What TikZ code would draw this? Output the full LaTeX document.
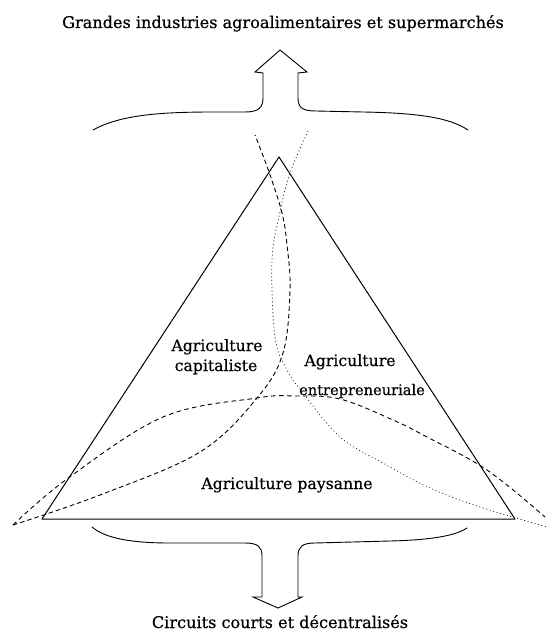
\documentclass[tikz,border=0pt]{standalone}
\usepackage{fontspec}
\setmainfont{DejaVu Serif}
\newfontfamily\lblfont{DejaVu Serif}[FakeBold=0.5]
\begin{document}
\begin{tikzpicture}[x=1pt,y=-1pt,
  edge/.style={line width=1pt, line join=round, line cap=round},
  brace/.style={line width=0.9pt, line join=miter, line cap=round},
  capcurve/.style={line width=0.9pt, dash pattern=on 4.5pt off 3pt},
  paycurve/.style={line width=0.9pt, dash pattern=on 4.5pt off 3.5pt},
  entcurve/.style={line width=0.8pt, dash pattern=on 0.6pt off 3pt, line cap=round, black!80},
  lbl/.style={font=\lblfont\fontsize{15.7}{18}\selectfont, inner sep=0pt, anchor=base},
  biglbl/.style={font=\lblfont\fontsize{16.1}{19}\selectfont, inner sep=0pt, anchor=base},
  smalllbl/.style={font=\lblfont\fontsize{14.6}{17}\selectfont, inner sep=0pt, anchor=base},
]
\useasboundingbox (0,0) rectangle (548,631);

% corners of the triangle
\coordinate (apex) at (279,157);
\coordinate (left) at (42,519);
\coordinate (right) at (515,519);
\draw[edge] (left) -- (apex) -- (right) -- cycle;

% peasant farming: dashed arc over the base
\draw[paycurve] plot[smooth, tension=0.6] coordinates {
  (13,525) (67,479) (163,417) (257,398) (295,396) (340,399) (393,420) (427,437) (487,470) (545,517)};

% capitalist farming: dashed curve from the left corner to the top
\draw[capcurve] plot[smooth, tension=0.6] coordinates {
  (13,525) (100,495) (200,452) (257,398) (283,353) (290,290) (287,245) (282,213) (269,172) (255,135)};

% entrepreneurial farming: dotted curve from the top to the right corner
\draw[entcurve] plot[smooth, tension=0.6] coordinates {
  (308,131) (290,173) (280,212) (272,260) (275,337) (287,370) (303,393) (340,437) (383,463) (430,488) (480,507) (547,527)};

% upper brace with arrow
\draw[brace] (93,130) .. controls (120,115) and (160,112) .. (213,112) -- (245,112)
  .. controls (258,112) and (263,108) .. (263,98) -- (263,73) -- (255,72) -- (280,50)
  -- (307,72) -- (298,73) -- (298,98) .. controls (298,108) and (303,111) .. (316,111)
  -- (363,112) .. controls (420,113) and (450,118) .. (468,130);

% lower brace with arrow
\draw[brace] (92,527) .. controls (105,538) and (130,543) .. (170,543) -- (245,543)
  .. controls (258,543) and (262,547) .. (262,556) -- (262,597) -- (253,597) -- (278,608)
  -- (302,597) -- (298,597) -- (298,556) .. controls (298,547) and (302,543) .. (315,543)
  -- (390,541) .. controls (430,540) and (455,536) .. (467,528);

% labels
\node[biglbl] (top) at (283,28) {Grandes industries agroalimentaires et supermarchés};
\node[biglbl] (bottom) at (280,628) {Circuits courts et décentralisés};
\node[lbl] (cap1) at (217,351) {Agriculture};
\node[lbl] (cap2) at (216,371) {capitaliste};
\node[lbl] (ent1) at (350,366) {Agriculture};
\node[smalllbl] (ent2) at (362,395) {entrepreneuriale};
\node[lbl] (pay) at (287,489) {Agriculture paysanne};
\end{tikzpicture}
\end{document}
